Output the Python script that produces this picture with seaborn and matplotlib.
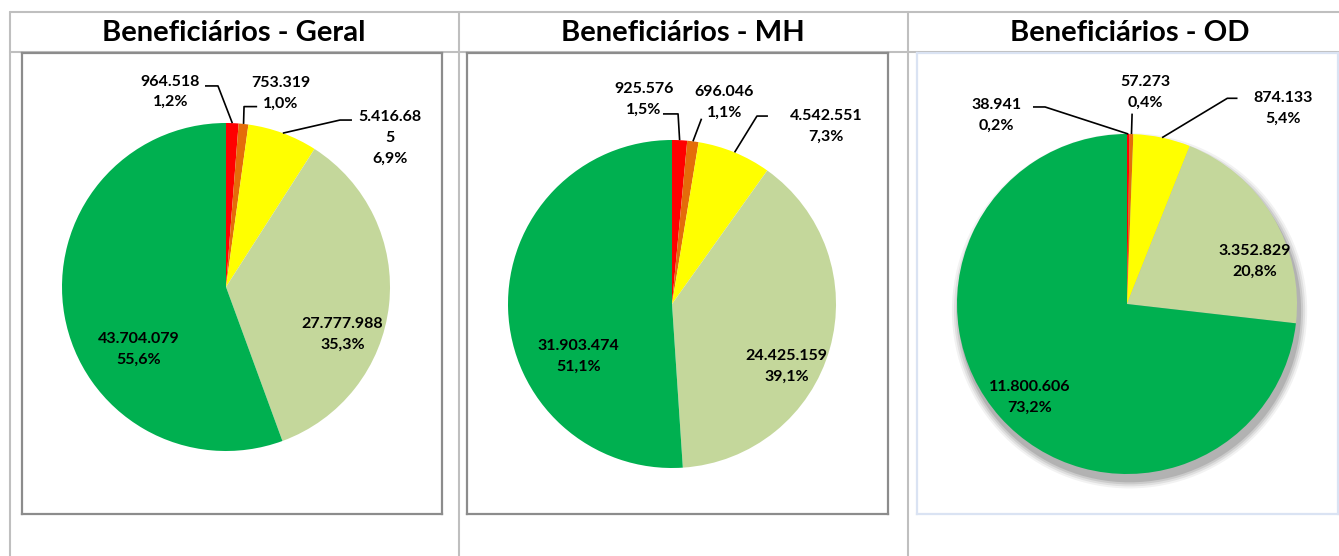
import numpy as np
import seaborn as sns
import matplotlib.pyplot as plt
from matplotlib.patches import Circle

# dados dos tres graficos (ordem: vermelho, laranja, amarelo, verde claro, verde)
titulos = ['Beneficiários - Geral', 'Beneficiários - MH', 'Beneficiários - OD']
geral = [964518, 753319, 5416685, 27777988, 43704079]
mh = [925576, 696046, 4542551, 24425159, 31903474]
od = [38941, 57273, 874133, 3352829, 11800606]
cores = ['#FF0000', '#E46C0A', '#FFFF00', '#C4D79B', '#00B050']

# rotulo quebrado como no original
quebra = {(0, 2): '5.416.68\n5'}

W, H = 1339, 556

# caixas dos graficos em pixels (x0, y0, x1, y1), centro e raio da pizza
caixas = [(22, 53, 442, 514), (467, 53, 888, 514), (917, 53, 1338, 514)]
centros = [(226, 287, 164), (672, 304, 164), (1127, 304, 170)]
cor_borda = ['#8C8C8C', '#8C8C8C', '#DAE3F3']

# posicao dos rotulos (unidades do raio)
pos_rot = [
    [(-0.34, 1.19), (0.335, 1.18), (1.0, 0.91), (0.71, -0.29), (-0.53, -0.38)],
    [(-0.17, 1.25), (0.32, 1.23), (0.94, 1.085), (0.70, -0.38), (-0.57, -0.32)],
    [(-0.77, 1.108), (0.106, 1.247), (0.92, 1.15), (0.75, 0.25), (-0.57, -0.55)],
]
# linhas guia: (inicio, cotovelo) para as fatias pequenas
guias = [
    {0: [(-0.128, 1.226), (-0.049, 1.226)], 1: [(0.19, 1.10), (0.11, 1.10)],
     2: [(0.768, 1.018), (0.695, 1.018)]},
    {0: [(-0.055, 1.159), (0.037, 1.159)], 1: [(0.18, 1.13)],
     2: [(0.585, 1.146), (0.518, 1.146)]},
    {0: [(-0.553, 1.159), (-0.482, 1.159)], 1: [(0.03, 1.12)],
     2: [(0.65, 1.21), (0.59, 1.21)]},
]


def fmt_num(v):
    return '{:,}'.format(v).replace(',', '.')


def fmt_pct(p):
    return '{:.1f}%'.format(p).replace('.', ',')


sns.set_theme(style='white')
plt.rcParams['font.family'] = ['Lato', 'DejaVu Sans']

fig = plt.figure(figsize=(W / 100, H / 100), dpi=100)

# grade da tabela
fundo = fig.add_axes([0, 0, 1, 1])
fundo.set_xlim(0, W)
fundo.set_ylim(H, 0)
fundo.axis('off')
cinza = '#BFBFBF'
fundo.plot([10, W], [12, 12], color=cinza, lw=1.5)
fundo.plot([10, W], [52, 52], color=cinza, lw=1.5)
for xv in [10, 459, 908]:
    fundo.plot([xv, xv], [12, H], color=cinza, lw=1.5)
for xt, t in zip([234, 683, 1130], titulos):
    fundo.text(xt, 33, t, ha='center', va='center', fontsize=21,
               fontweight='bold', color='black')

for i, dados in enumerate([geral, mh, od]):
    x0, y0, x1, y1 = caixas[i]
    cx, cy, r = centros[i]
    ax = fig.add_axes([x0 / W, 1 - y1 / H, (x1 - x0) / W, (y1 - y0) / H])
    if i == 2:
        # sombra da pizza
        for k, a in enumerate([0.05, 0.07, 0.09, 0.12]):
            ax.add_patch(Circle((0.015, -0.04), 1.045 - k * 0.012,
                                color='black', alpha=a, lw=0, zorder=0))
    wedges, _ = ax.pie(dados, colors=cores, startangle=90, counterclock=False,
                       radius=1, wedgeprops=dict(linewidth=0))
    ax.set_aspect('auto')
    ax.set_xlim((x0 - cx) / r, (x1 - cx) / r)
    ax.set_ylim((cy - y1) / r, (cy - y0) / r)
    ax.set_frame_on(True)
    for s in ax.spines.values():
        s.set_visible(True)
        s.set_color(cor_borda[i])
        s.set_linewidth(1.6)

    total = float(sum(dados))
    for j, (w, v) in enumerate(zip(wedges, dados)):
        txt = quebra.get((i, j), fmt_num(v)) + '\n' + fmt_pct(100 * v / total)
        px, py = pos_rot[i][j]
        ax.text(px, py, txt, ha='center', va='center', fontsize=11.5,
                fontweight='bold', color='black', linespacing=1.6)
        if j in guias[i]:
            ang = np.deg2rad((w.theta1 + w.theta2) / 2)
            pts = guias[i][j] + [(np.cos(ang), np.sin(ang))]
            ax.plot([p[0] for p in pts], [p[1] for p in pts],
                    color='black', lw=1.2, solid_capstyle='butt')

fig.savefig('out.png', dpi=100)
